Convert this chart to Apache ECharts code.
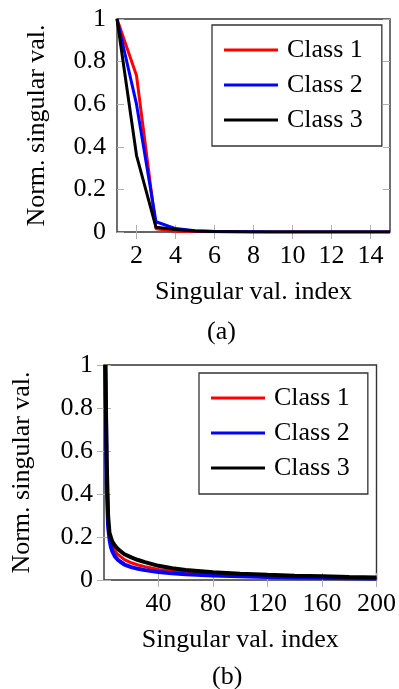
<!DOCTYPE html>
<html>
<head>
<meta charset="utf-8">
<script src="https://cdn.jsdelivr.net/npm/echarts@6/dist/echarts.min.js"></script>
<style>
  html, body { margin: 0; padding: 0; background: #fff; }
  #chart { width: 399px; height: 689px; }
</style>
</head>
<body>
<div id="chart"></div>
<script>
// (a) first 15 singular values
const idxA = [1, 2, 3, 4, 5, 6, 7, 8, 9, 10, 11, 12, 13, 14, 15];
const class1A = [1, 0.735, 0.015, 0.004, 0.002, 0.001, 0.001, 0, 0, 0, 0, 0, 0, 0, 0];
const class2A = [1, 0.6, 0.048, 0.016, 0.006, 0.002, 0.001, 0.001, 0, 0, 0, 0, 0, 0, 0];
const class3A = [1, 0.36, 0.022, 0.012, 0.005, 0.002, 0.001, 0, 0, 0, 0, 0, 0, 0, 0];
const ticksA = [2, 4, 6, 8, 10, 12, 14];

// (b) all 200 singular values (read at selected indices)
const idxB = [1, 2, 3, 4, 5, 6, 8, 10, 12, 15, 20, 25, 30, 40, 50, 60, 80, 100, 120, 140, 160, 180, 200];
const class1B = [1, 0.5, 0.27, 0.2, 0.17, 0.155, 0.135, 0.12, 0.11, 0.095, 0.08, 0.07, 0.062, 0.049, 0.041, 0.035, 0.027, 0.021, 0.017, 0.014, 0.012, 0.01, 0.008];
const class2B = [1, 0.45, 0.25, 0.19, 0.155, 0.135, 0.11, 0.095, 0.085, 0.072, 0.06, 0.052, 0.046, 0.037, 0.031, 0.027, 0.021, 0.017, 0.014, 0.012, 0.01, 0.008, 0.007];
const class3B = [1, 0.55, 0.3, 0.22, 0.2, 0.18, 0.16, 0.145, 0.135, 0.12, 0.105, 0.093, 0.083, 0.066, 0.055, 0.047, 0.036, 0.029, 0.024, 0.02, 0.017, 0.014, 0.012];
const ticksB = [40, 80, 120, 160, 200];

const names = ['Class 1', 'Class 2', 'Class 3'];
const colors = ['#ff0000', '#0000ff', '#000000'];

const FONT = '"Liberation Serif", "Times New Roman", serif';
const tickColor = '#b0b0b0';

const zip = (xs, ys) => xs.map((x, i) => [x, ys[i]]);

// x axes: bottom with labels, top only ticks
function xAxes(grid, min, max, ticks) {
  return [
    {
      gridIndex: grid, type: 'value', min: min, max: max, position: 'bottom',
      name: 'Singular val. index', nameLocation: 'middle', nameGap: 47,
      nameTextStyle: { fontFamily: FONT, fontSize: 26, color: '#000' },
      axisLine: { show: false },
      axisTick: { inside: true, length: 7, lineStyle: { color: tickColor }, customValues: ticks },
      axisLabel: { customValues: ticks, fontFamily: FONT, fontSize: 26, color: '#000', margin: 11 },
      splitLine: { show: false },
    },
    {
      gridIndex: grid, type: 'value', min: min, max: max, position: 'top',
      axisLine: { show: false },
      axisTick: { inside: true, length: 7, lineStyle: { color: tickColor }, customValues: ticks },
      axisLabel: { show: false, customValues: ticks },
      splitLine: { show: false },
    },
  ];
}

function yAxes(grid, gap) {
  return [
    {
      gridIndex: grid, type: 'value', min: 0, max: 1, interval: 0.2, position: 'left',
      name: 'Norm. singular val.', nameLocation: 'middle', nameGap: gap,
      nameTextStyle: { fontFamily: FONT, fontSize: 26, color: '#000' },
      axisLine: { show: false },
      axisTick: { inside: true, length: 7, lineStyle: { color: tickColor } },
      axisLabel: { fontFamily: FONT, fontSize: 26, color: '#000', margin: 11 },
      splitLine: { show: false },
    },
    {
      gridIndex: grid, type: 'value', min: 0, max: 1, interval: 0.2, position: 'right',
      axisLine: { show: false },
      axisTick: { inside: true, length: 7, lineStyle: { color: tickColor } },
      axisLabel: { show: false },
      splitLine: { show: false },
    },
  ];
}

function legendAt(left, top, rightPad) {
  return {
    orient: 'vertical', left: left, top: top,
    icon: 'rect', itemWidth: 54, itemHeight: 3, itemGap: 9,
    padding: [12, rightPad, 13, 12],
    borderColor: '#333', borderWidth: 1.3, backgroundColor: '#fff',
    textStyle: { fontFamily: FONT, fontSize: 26, lineHeight: 26, color: '#000', padding: [0, 0, 0, 4] },
    data: names,
  };
}

const widthsB = [3, 4, 4];
const seriesA = [class1A, class2A, class3A].map((ys, i) => ({
  name: names[i], type: 'line', xAxisIndex: 0, yAxisIndex: 0,
  data: zip(idxA, ys), showSymbol: false, color: colors[i],
  lineStyle: { color: colors[i], width: 3 }, z: 3 + i,
}));
const seriesB = [class1B, class2B, class3B].map((ys, i) => ({
  name: names[i], type: 'line', xAxisIndex: 2, yAxisIndex: 2,
  data: zip(idxB, ys), showSymbol: false, color: colors[i],
  lineStyle: { color: colors[i], width: widthsB[i] }, z: 3 + i,
}));

const chart = echarts.init(document.getElementById('chart'));
chart.setOption({
  animation: false,
  backgroundColor: '#fff',
  grid: [
    { left: 117, top: 19, width: 273, height: 213, show: true, borderColor: '#333', borderWidth: 1.4 },
    { left: 104, top: 365, width: 273, height: 215, show: true, borderColor: '#333', borderWidth: 1.4 },
  ],
  xAxis: [...xAxes(0, 1, 15, ticksA), ...xAxes(1, 0, 200, ticksB)],
  yAxis: [...yAxes(0, 67), ...yAxes(1, 69)],
  legend: [legendAt(212, 25, 19), legendAt(199, 373, 18)],
  graphic: [
    { type: 'text', left: 222 - 15, top: 333 - 14, style: { text: '(a)', font: '26px ' + FONT, fill: '#000' } },
    { type: 'text', left: 227 - 15, top: 678 - 14, style: { text: '(b)', font: '26px ' + FONT, fill: '#000' } },
  ],
  series: [...seriesA, ...seriesB],
});
</script>
</body>
</html>
